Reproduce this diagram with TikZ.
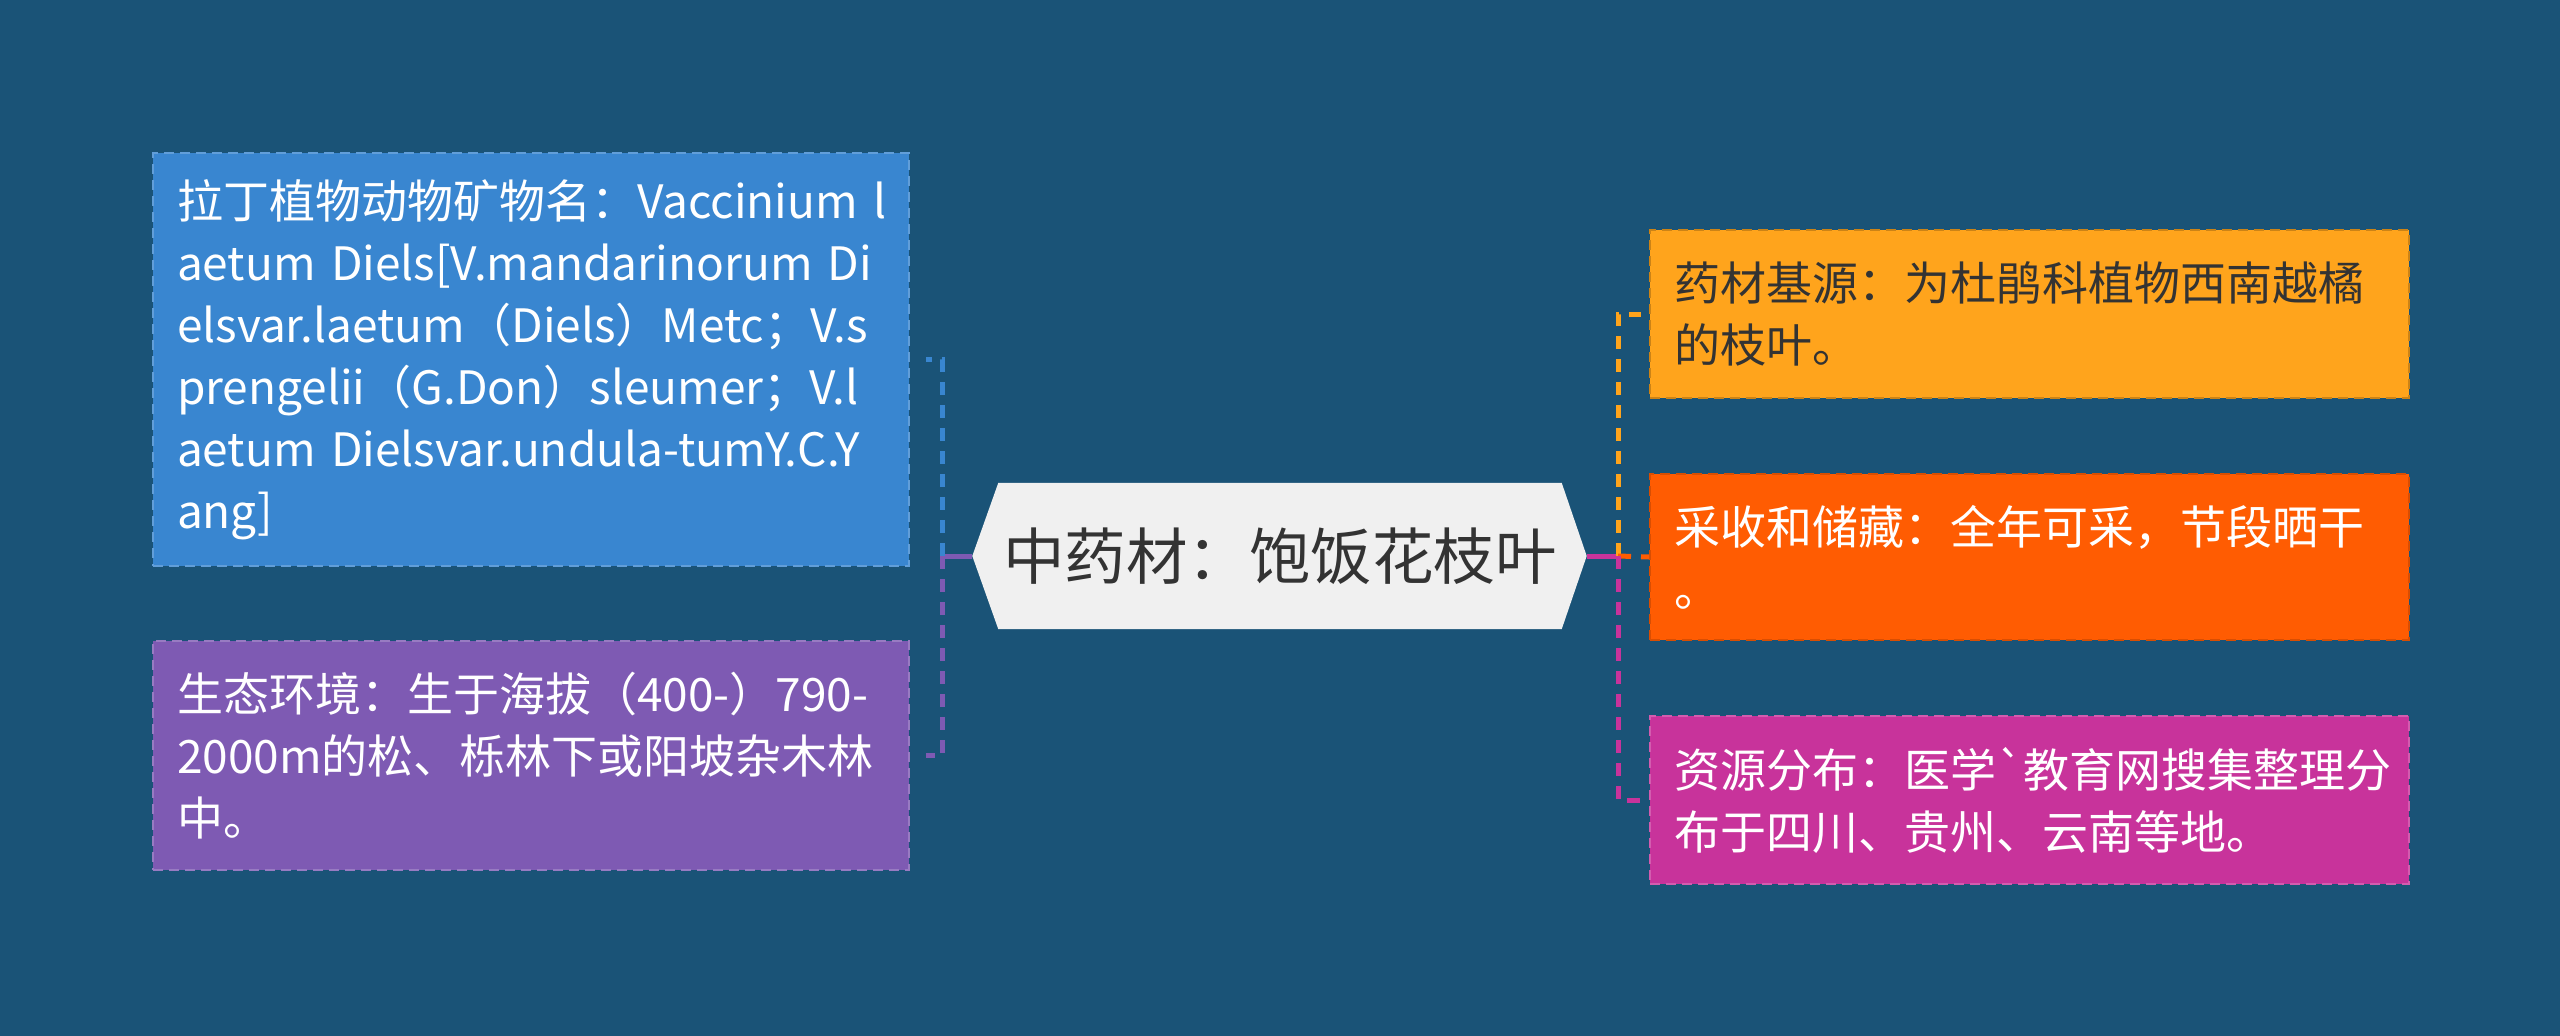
\documentclass[tikz,border=0pt]{standalone}
\usepackage{fontspec}
\newfontfamily\cjk{Noto Sans CJK SC}
\usetikzlibrary{backgrounds,calc}
\definecolor{bgc}{HTML}{1A5377}
\definecolor{cblue}{HTML}{3986D0}
\definecolor{cpurple}{HTML}{7E5AB3}
\definecolor{cyellow}{HTML}{FFA41C}
\definecolor{corange}{HTML}{FF5C02}
\definecolor{cmag}{HTML}{C8339B}
\definecolor{cfill}{HTML}{F0F0F0}
\definecolor{ctext}{HTML}{333333}
\tikzset{
  box/.style={rectangle, anchor=north west, inner xsep=24pt, inner ysep=0pt,
    align=left, font=\cjk\fontsize{46}{62}\selectfont,
    line width=2pt, dash pattern=on 10pt off 6pt},
  conn/.style={line width=5pt, dash pattern=on 13pt off 10pt},
  stem/.style={line width=5pt}
}
\begin{document}
\begin{tikzpicture}[x=1pt,y=-1pt]
\useasboundingbox (0,0) rectangle (2560,1036);
% centre
\node[font=\cjk\fontsize{61.5}{72}\selectfont, text=ctext, minimum width=563pt,
  minimum height=146pt, inner sep=0pt] (c) at (1280,556) {中药材：饱饭花枝叶};
\coordinate (cw) at ($(c.west)+(-26,0)$);
\coordinate (ce) at ($(c.east)+(25,0)$);
% boxes
\node[box, fill=cblue, draw=cblue!80!white, text=white, text width=708pt,
  minimum height=413pt] (b1) at (152,152)
  {\mbox{拉丁植物动物矿物名：Vaccinium l}\\
   \mbox{aetum Diels[V.mandarinorum Di}\\
   \mbox{elsvar.laetum（Diels）Metc；V.s}\\
   \mbox{prengelii（G.Don）sleumer；V.l}\\
   \mbox{aetum Dielsvar.undula-tumY.C.Y}\\
   \mbox{ang]}};
\node[box, fill=cpurple, draw=cpurple!80!white, text=white, text width=708pt,
  minimum height=229pt] (b2) at (152,640)
  {\mbox{生态环境：生于海拔（400-）790-}\\
   \mbox{2000m的松、栎林下或阳坡杂木林}\\
   \mbox{中。}};
\node[box, fill=cyellow, draw=cyellow!80!black, text=ctext, text width=711pt,
  minimum height=168pt] (b3) at (1649,229)
  {\mbox{药材基源：为杜鹃科植物西南越橘}\\
   \mbox{的枝叶。}};
\node[box, fill=corange, draw=corange!85!black, text=white, text width=711pt,
  minimum height=166pt] (b4) at (1649,473)
  {\mbox{采收和储藏：全年可采，节段晒干}\\
   \mbox{。}};
\node[box, fill=cmag, draw=cmag!80!white, text=white, text width=711pt,
  minimum height=168pt] (b5) at (1649,715)
  {\mbox{资源分布：医学`教育网搜集整理分}\\
   \mbox{布于四川、贵州、云南等地。}};
% junctions
\coordinate (lj) at (942,556);
\coordinate (rj) at (1618,556);
% connectors
\draw[stem, cpurple] (cw) -- (lj);
\draw[conn, cblue] (lj) -- (lj |- b1.east) -- ($(b1.east)+(16,0)$);
\draw[conn, cpurple] (lj) -- (lj |- b2.east) -- ($(b2.east)+(16,0)$);
\draw[stem, cmag] (ce) -- (rj);
\draw[conn, cyellow] (rj) -- (rj |- b3.west) -- ($(b3.west)+(-8,0)$);
\draw[conn, corange] (rj) -- (b4.west);
\draw[conn, cmag] (rj) -- (rj |- b5.west) -- ($(b5.west)+(-8,0)$);
\begin{scope}[on background layer]
\fill[bgc] (0,0) rectangle (2560,1036);
\fill[cfill] (c.north west) -- (c.north east) -- (ce) -- (c.south east)
  -- (c.south west) -- (cw) -- cycle;
\end{scope}
\end{tikzpicture}
\end{document}
